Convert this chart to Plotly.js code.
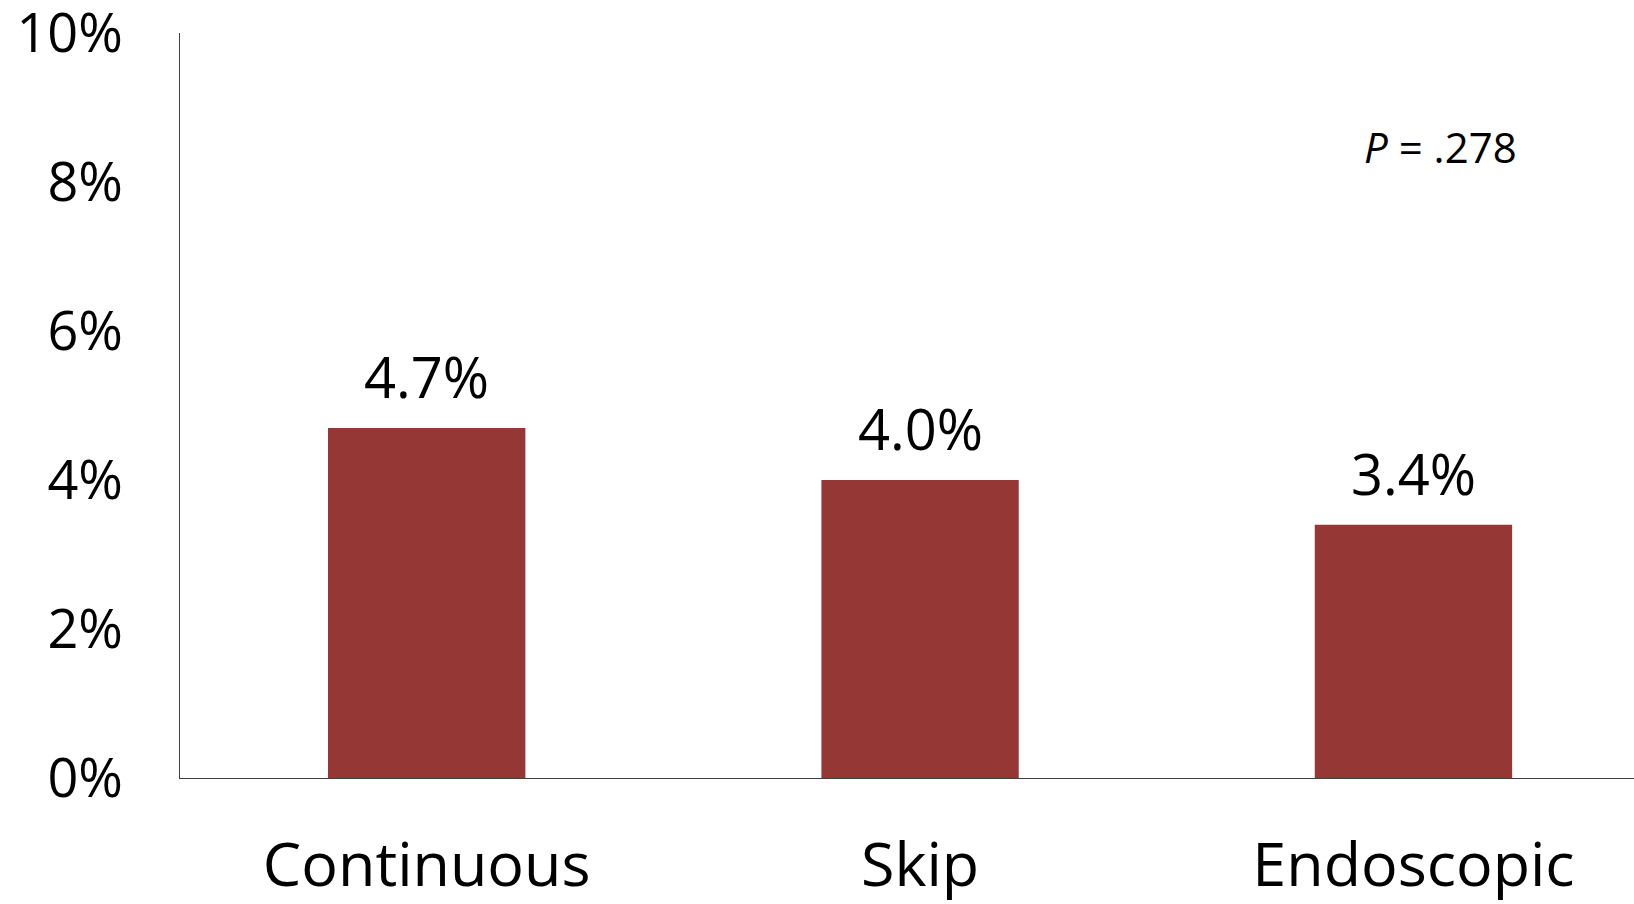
<!DOCTYPE html>
<html>
<head>
<meta charset="utf-8">
<script src="https://cdn.plot.ly/plotly-3.0.1.min.js"></script>
<style>
  html, body { margin: 0; padding: 0; background: #ffffff; }
  #chart { width: 1634px; height: 904px; }
</style>
</head>
<body>
<div id="chart"></div>
<script>
// Complication rate by approach (percent)
const categories = ['Continuous', 'Skip', 'Endoscopic'];
const rates = [4.7, 4.0, 3.4];
const yTicks = [0, 2, 4, 6, 8, 10];
const pValueText = '<i>P</i> = .278';

const FONT = '"Open Sans", "Noto Sans", sans-serif';
const BAR_COLOR = '#953735';

const trace = {
  type: 'bar',
  x: categories,
  y: rates,
  width: 0.4,
  marker: { color: BAR_COLOR, line: { width: 0 } },
  hoverinfo: 'skip'
};

// value labels sit above each bar, placed from the same values
const valueLabels = categories.map((c, i) => ({
  x: c,
  y: rates[i],
  xref: 'x',
  yref: 'y',
  text: rates[i].toFixed(1) + '%',
  showarrow: false,
  xanchor: 'center',
  yanchor: 'bottom',
  yshift: 12,
  font: { family: FONT, size: 56, color: '#000000' }
}));

const pLabel = {
  x: 0.8666,
  y: 0.847,
  xref: 'paper',
  yref: 'paper',
  text: pValueText,
  showarrow: false,
  xanchor: 'center',
  yanchor: 'middle',
  font: { family: FONT, size: 42, color: '#000000' }
};

const layout = {
  width: 1634,
  height: 904,
  margin: { l: 180, r: 0, t: 33, b: 126, pad: 0 },
  paper_bgcolor: '#ffffff',
  plot_bgcolor: '#ffffff',
  showlegend: false,
  font: { family: FONT, color: '#000000' },
  xaxis: {
    type: 'category',
    range: [-0.5, 2.447],
    showline: true,
    linecolor: '#404040',
    linewidth: 1.3,
    showgrid: false,
    zeroline: false,
    ticks: '',
    ticklabelstandoff: 33,
    tickfont: { family: FONT, size: 61, color: '#000000' },
    fixedrange: true
  },
  yaxis: {
    range: [0, 10.002],
    tickvals: yTicks,
    ticktext: yTicks.map(v => v + '%'),
    showline: true,
    linecolor: '#404040',
    linewidth: 1.3,
    showgrid: false,
    zeroline: false,
    ticks: '',
    ticklabelstandoff: 45,
    ticklabeloverflow: 'allow',
    tickfont: { family: FONT, size: 54, color: '#000000' },
    fixedrange: true
  },
  annotations: valueLabels.concat([pLabel])
};

Plotly.newPlot('chart', [trace], layout, { displayModeBar: false, staticPlot: true });
</script>
</body>
</html>
